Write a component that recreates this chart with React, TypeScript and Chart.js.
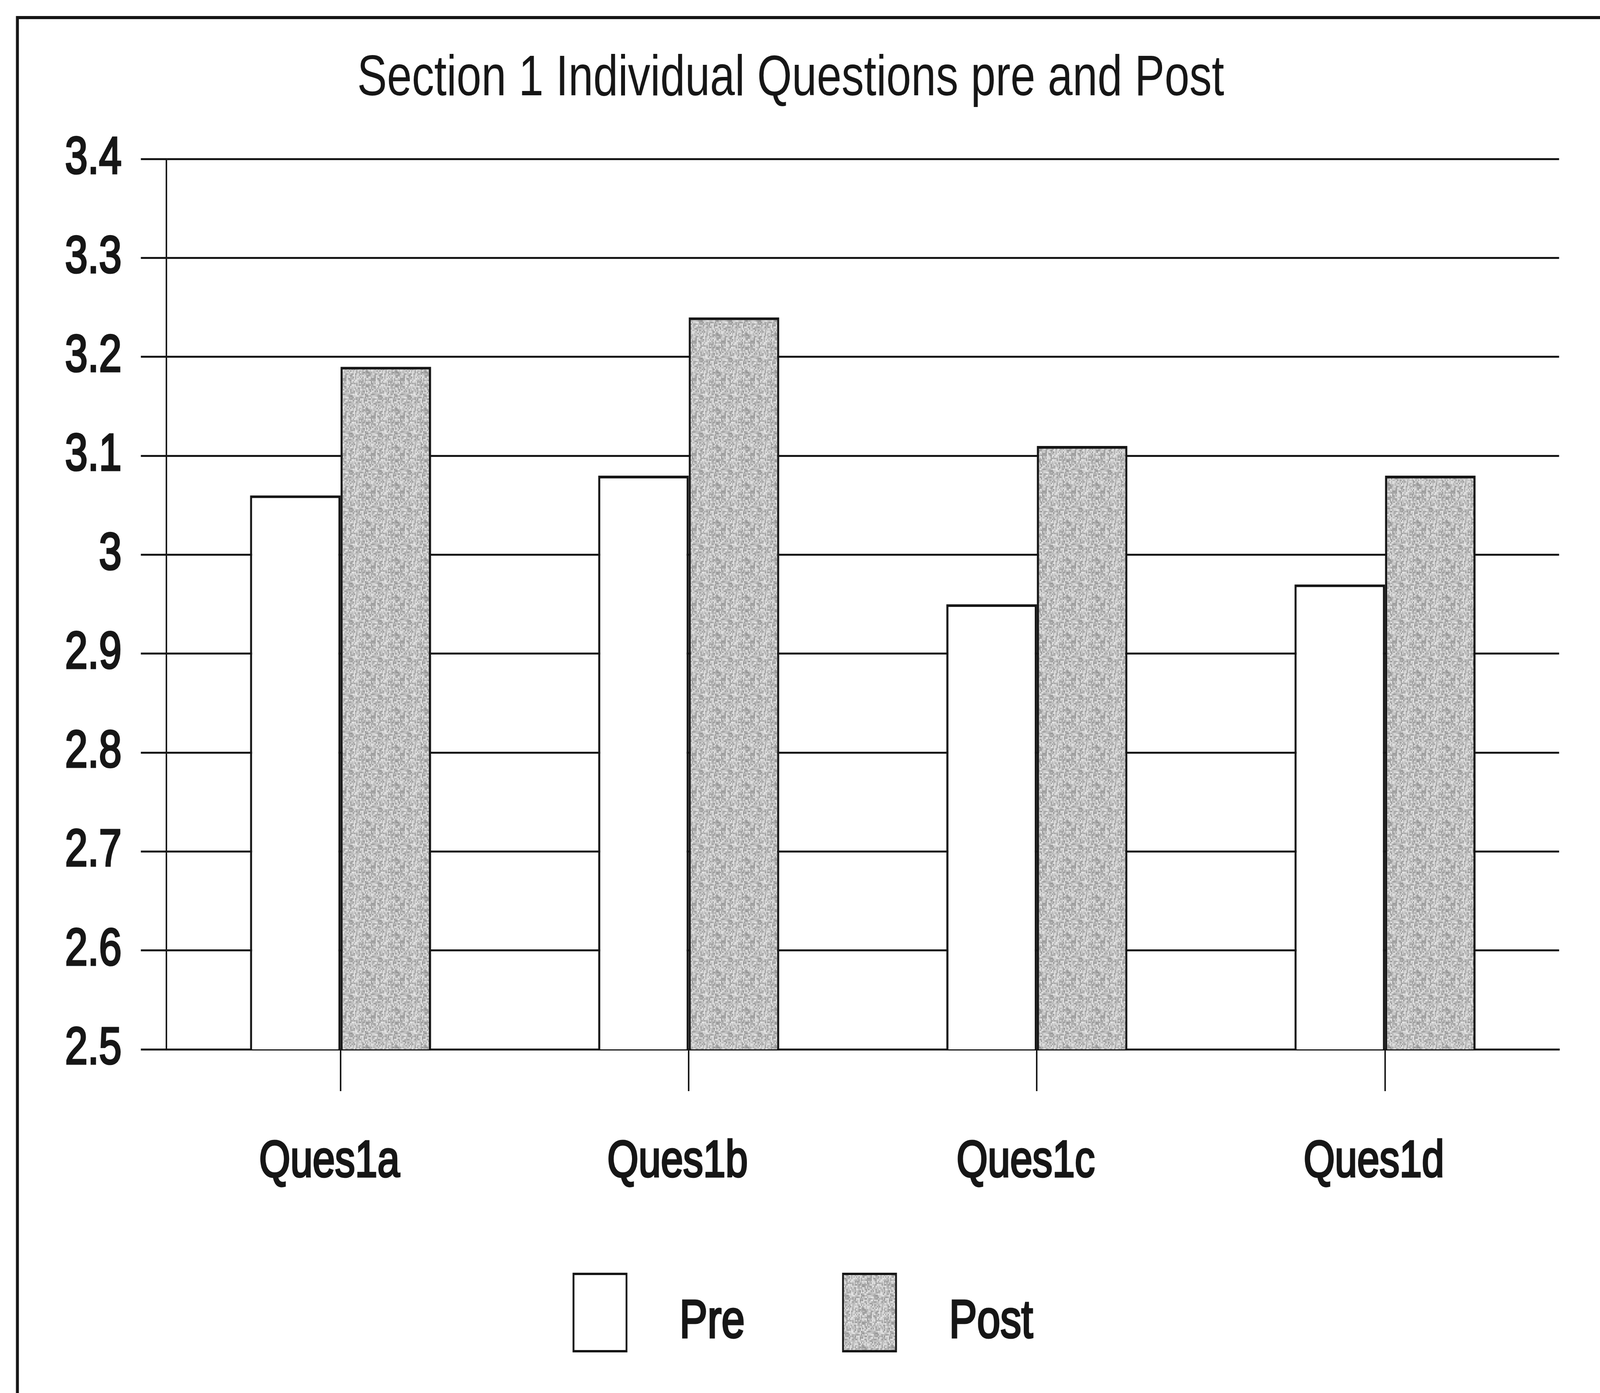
import React, { useEffect, useRef } from "react";
import { Chart, registerables } from "chart.js";

Chart.register(...registerables);

const titleText = "Section 1 Individual Questions pre and Post";
const categories = ["Ques1a", "Ques1b", "Ques1c", "Ques1d"];
const seriesNames = ["Pre", "Post"];
const preValues = [3.06, 3.08, 2.95, 2.97];
const postValues = [3.19, 3.24, 3.11, 3.08];
const yMin = 2.5;
const yMax = 3.4;
const yStep = 0.1;
const seriesFills = ["#ffffff", "#bababa"];

// Design size and horizontal condensing (to mimic a narrow typeface)
const PAGE_W = 4316;
const PAGE_H = 3567;
const SX = 0.82;
const CW = Math.round(PAGE_W / SX);
const px = (v: number) => v / SX; // page x-length -> canvas x-length

const FONT = "'Liberation Sans', Arial, sans-serif";
const INK = "#161616";

function makeGrain(): CanvasPattern | string {
  const c = document.createElement("canvas");
  const n = 96;
  c.width = n;
  c.height = n;
  const g = c.getContext("2d");
  if (!g) return seriesFills[1];
  g.fillStyle = seriesFills[1];
  g.fillRect(0, 0, n, n);
  const cell = 4;
  for (let yy = 0; yy < n; yy += cell) {
    for (let xx = 0; xx < n; xx += cell) {
      let h = (xx * 374761393 + yy * 668265263) | 0;
      h = Math.imul(h ^ (h >>> 13), 1274126177);
      h = (h ^ (h >>> 16)) >>> 0;
      const t = (h % 1000) / 1000;
      const v = Math.round(150 + t * 80);
      g.fillStyle = `rgb(${v},${v},${v})`;
      g.fillRect(xx, yy, cell, cell);
    }
  }
  const ctx = document.createElement("canvas").getContext("2d");
  const p = ctx ? ctx.createPattern(c, "repeat") : null;
  return p || seriesFills[1];
}

const framePlugin = {
  id: "frame",
  beforeDraw(chart: any) {
    const ctx = chart.ctx;
    ctx.save();
    ctx.fillStyle = "#ffffff";
    ctx.fillRect(0, 0, chart.width, chart.height);
    ctx.strokeStyle = INK;
    ctx.lineWidth = 8;
    ctx.beginPath();
    ctx.moveTo(px(47), 45);
    ctx.lineTo(chart.width + 10, 45);
    ctx.stroke();
    ctx.lineWidth = px(8);
    ctx.beginPath();
    ctx.moveTo(px(47), chart.height + 10);
    ctx.lineTo(px(47), 41);
    ctx.stroke();
    ctx.restore();
  },
};

const legendPlugin = {
  id: "customLegend",
  afterDraw(chart: any) {
    const ctx = chart.ctx;
    const startX = px(1547);
    const itemSpacing = px(727);
    const boxW = px(143);
    const boxH = 198;
    const gap = px(143);
    const centerY = 3361;
    ctx.save();
    chart.data.datasets.forEach((ds: any, i: number) => {
      const x = startX + i * itemSpacing;
      ctx.fillStyle = ds.backgroundColor;
      ctx.fillRect(x, centerY - boxH / 2, boxW, boxH);
      ctx.strokeStyle = INK;
      ctx.lineWidth = 6;
      ctx.strokeRect(x, centerY - boxH / 2, boxW, boxH);
      ctx.fillStyle = INK;
      ctx.strokeStyle = INK;
      ctx.lineWidth = 5;
      ctx.font = `138px ${FONT}`;
      ctx.textBaseline = "middle";
      ctx.textAlign = "left";
      ctx.fillText(ds.label, x + boxW + gap, centerY + 26);
      ctx.strokeText(ds.label, x + boxW + gap, centerY + 26);
    });
    ctx.restore();
  },
};

export default function App() {
  const ref = useRef<HTMLCanvasElement | null>(null);
  const vw = typeof window !== "undefined" ? window.innerWidth : PAGE_W;
  const vh = typeof window !== "undefined" ? window.innerHeight : PAGE_H;
  const kx = vw / PAGE_W;
  const ky = vh / PAGE_H;

  useEffect(() => {
    if (!ref.current) return;
    const grain = makeGrain();
    const chart = new Chart(ref.current, {
      type: "bar",
      data: {
        labels: categories,
        datasets: [
          {
            label: seriesNames[0],
            data: preValues,
            backgroundColor: seriesFills[0],
            borderColor: INK,
            borderWidth: 7,
          },
          {
            label: seriesNames[1],
            data: postValues,
            backgroundColor: grain as any,
            borderColor: INK,
            borderWidth: 7,
          },
        ],
      },
      options: {
        animation: false,
        responsive: false,
        devicePixelRatio: 1,
        layout: { padding: { left: px(60), right: px(110), top: 0, bottom: 480 } },
        datasets: {
          bar: { categoryPercentage: 0.52, barPercentage: 1.0 },
        },
        plugins: {
          legend: { display: false },
          tooltip: { enabled: false },
          title: {
            display: true,
            text: titleText,
            color: INK,
            font: { family: FONT, size: 147, weight: "normal", lineHeight: 1.2 },
            padding: { top: 115, bottom: 116 },
          },
        },
        scales: {
          x: {
            offset: true,
            grid: {
              offset: false,
              drawOnChartArea: false,
              drawTicks: true,
              tickLength: 107,
              color: INK,
              lineWidth: px(4),
            },
            border: { display: true, color: INK, width: 5 },
            ticks: {
              color: INK,
              padding: 103,
              labelOffset: -px(30),
              textStrokeColor: INK,
              textStrokeWidth: 5,
              font: { family: FONT, size: 132, weight: "normal", lineHeight: 1.2 },
            },
            afterFit(scale: any) {
              scale.height = 400;
            },
          },
          y: {
            min: yMin,
            max: yMax,
            grid: {
              color: INK,
              lineWidth: 5,
              drawTicks: true,
              tickLength: px(69),
            },
            border: { display: true, color: INK, width: px(4) },
            ticks: {
              stepSize: yStep,
              color: INK,
              padding: px(52),
              textStrokeColor: INK,
              textStrokeWidth: 5,
              font: { family: FONT, size: 134, weight: "normal" },
              callback: (v: any) => String(Number(Number(v).toFixed(1))),
            },
            afterFit(scale: any) {
              scale.width = px(389);
            },
          },
        },
      },
      plugins: [framePlugin, legendPlugin],
    });
    return () => chart.destroy();
  }, []);

  return (
    <div
      style={{
        position: "fixed",
        left: 0,
        top: 0,
        width: vw + "px",
        height: vh + "px",
        overflow: "hidden",
        background: "#ffffff",
      }}
    >
      <canvas
        ref={ref}
        width={CW}
        height={PAGE_H}
        style={{
          display: "block",
          width: CW + "px",
          height: PAGE_H + "px",
          transform: `scale(${SX * kx}, ${ky})`,
          transformOrigin: "0 0",
        }}
      />
    </div>
  );
}
